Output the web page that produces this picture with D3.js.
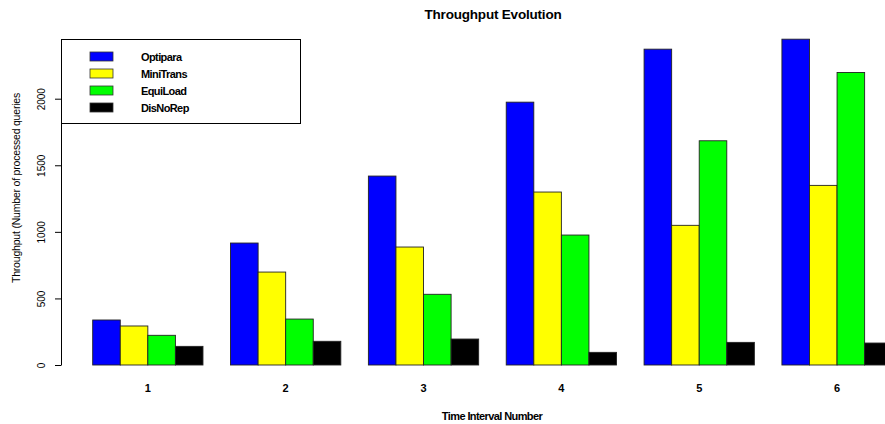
<!DOCTYPE html>
<html>
<head>
<meta charset="utf-8">
<script src="https://cdn.jsdelivr.net/npm/d3@7"></script>
<style>
  html, body { margin: 0; padding: 0; background: #fff; }
  svg text { font-family: "Liberation Sans", Arial, sans-serif; fill: #000; }
  .bold { font-weight: bold; }
</style>
</head>
<body>
<svg id="chart" width="885" height="424"></svg>
<script>
"use strict";

/* ── Data ─────────────────────────────────────────────── */
const intervals = ["1", "2", "3", "4", "5", "6"];
const seriesNames = ["Optipara", "MiniTrans", "EquiLoad", "DisNoRep"];
const seriesColors = ["#0000ff", "#ffff00", "#00ff00", "#000000"];
const optipara  = [338, 916, 1419, 1974, 2372, 2447];
const miniTrans = [293, 698, 886, 1299, 1049, 1349];
const equiLoad  = [223, 345, 531, 976, 1684, 2197];
const disNoRep  = [140, 178, 195, 95, 170, 165];
const yTicks = [0, 500, 1000, 1500, 2000];

const values = [optipara, miniTrans, equiLoad, disNoRep];
const rows = intervals.map((k, i) => ({
  interval: k,
  bars: seriesNames.map((s, j) => ({ name: s, color: seriesColors[j], value: values[j][i] }))
}));

/* ── Layout ───────────────────────────────────────────── */
const svg = d3.select("#chart");
const AXIS_X = 61;

const x0 = d3.scaleBand().domain(intervals).range([92.7, 892.2]).paddingInner(0.2).paddingOuter(0);
const x1 = d3.scaleBand().domain(seriesNames).range([0, x0.bandwidth()]);
const y  = d3.scaleLinear().domain([0, 2000]).range([365, 98.7]);

/* ── Bars ─────────────────────────────────────────────── */
svg.append("g")
  .selectAll("g")
  .data(rows)
  .join("g")
  .attr("transform", (d) => `translate(${x0(d.interval)},0)`)
  .selectAll("rect")
  .data((d) => d.bars)
  .join("rect")
  .attr("x", (d) => x1(d.name))
  .attr("y", (d) => y(d.value))
  .attr("width", x1.bandwidth())
  .attr("height", (d) => y(0) - y(d.value))
  .attr("fill", (d) => d.color)
  .attr("stroke", "#222")
  .attr("stroke-width", 0.9);

/* ── Y axis ───────────────────────────────────────────── */
const yAxis = svg.append("g")
  .attr("transform", `translate(${AXIS_X},0)`)
  .call(d3.axisLeft(y).tickValues(yTicks).tickFormat(d3.format("d")).tickSize(6).tickSizeOuter(0));
yAxis.select(".domain").attr("stroke", "#000");
yAxis.selectAll(".tick line").attr("stroke", "#000");
yAxis.selectAll(".tick text")
  .attr("transform", "rotate(-90)")
  .attr("x", 0)
  .attr("y", -16)
  .attr("dy", 0)
  .attr("text-anchor", "middle")
  .attr("font-family", "Liberation Sans, Arial, sans-serif")
  .attr("font-size", 10)
  .attr("fill", "#000");

svg.append("text")
  .attr("transform", `translate(20,188) rotate(-90)`)
  .attr("text-anchor", "middle")
  .attr("font-size", 10.5)
  .attr("letter-spacing", -0.2)
  .text("Throughput (Number of processed queries");

/* ── X labels ─────────────────────────────────────────── */
svg.append("g")
  .selectAll("text")
  .data(intervals)
  .join("text")
  .attr("class", "bold")
  .attr("x", (d) => x0(d) + x0.bandwidth() / 2)
  .attr("y", 392)
  .attr("text-anchor", "middle")
  .attr("font-size", 11)
  .text((d) => d);

svg.append("text")
  .attr("class", "bold")
  .attr("x", 492)
  .attr("y", 420)
  .attr("text-anchor", "middle")
  .attr("font-size", 11)
  .attr("letter-spacing", -0.6)
  .text("Time Interval Number");

/* ── Title ────────────────────────────────────────────── */
svg.append("text")
  .attr("class", "bold")
  .attr("x", 493)
  .attr("y", 18.5)
  .attr("text-anchor", "middle")
  .attr("font-size", 13.5)
  .attr("letter-spacing", -0.2)
  .text("Throughput Evolution");

/* ── Legend ───────────────────────────────────────────── */
const legend = svg.append("g");
legend.append("rect")
  .attr("x", 61.5).attr("y", 39.5)
  .attr("width", 239).attr("height", 84)
  .attr("fill", "none").attr("stroke", "#000").attr("stroke-width", 1);

const rowY = [56.5, 73.5, 90.5, 107.5];
const items = legend.selectAll("g.item")
  .data(seriesNames)
  .join("g")
  .attr("class", "item")
  .attr("transform", (d, i) => `translate(0,${rowY[i]})`);
items.append("rect")
  .attr("x", 90).attr("y", -4.5)
  .attr("width", 23).attr("height", 9)
  .attr("fill", (d, i) => seriesColors[i])
  .attr("stroke", "#333").attr("stroke-width", 0.8);
items.append("text")
  .attr("class", "bold")
  .attr("x", 141).attr("y", 4)
  .attr("font-size", 11)
  .attr("letter-spacing", -0.6)
  .text((d) => d);
</script>
</body>
</html>
